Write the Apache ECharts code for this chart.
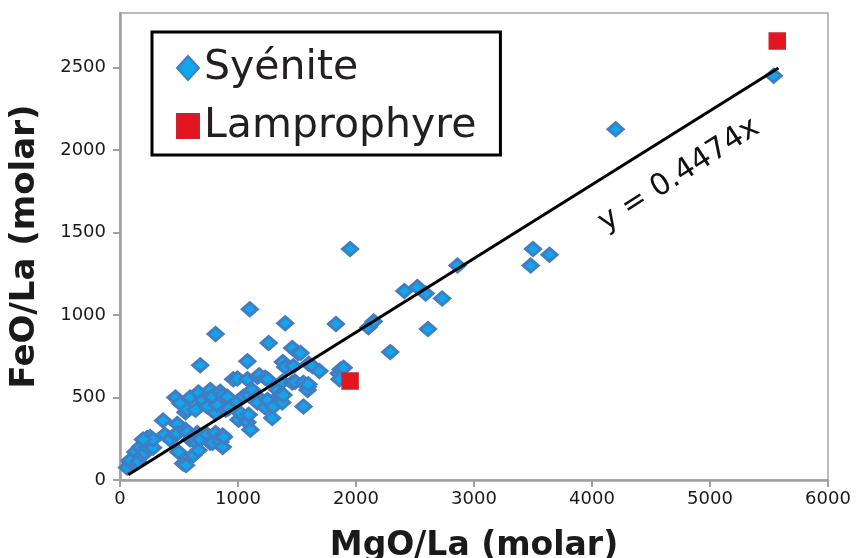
<!DOCTYPE html>
<html>
<head>
<meta charset="utf-8">
<script src="https://cdn.jsdelivr.net/npm/echarts@6/dist/echarts.min.js"></script>
<style>
html,body{margin:0;padding:0;background:#fff;}
#chart{width:856px;height:558px;}
</style>
</head>
<body>
<div id="chart"></div>
<script>
// ---- data ----
const xTicks = [0, 1000, 2000, 3000, 4000, 5000, 6000];
const yTicks = [0, 500, 1000, 1500, 2000, 2500];
const seriesNames = ['Syénite', 'Lamprophyre'];
const syenite = [
  [60,75],[85,110],[85,120],[130,170],[155,110],[170,200],[190,150],[210,165],[230,200],[230,255],
  [255,260],[280,195],[280,245],[195,245],[365,360],[380,275],[425,245],[470,275],[470,500],[485,340],
  [485,285],[495,170],[510,465],[535,100],[555,305],[555,410],[560,90],[570,290],[570,425],[595,245],
  [595,500],[620,150],[640,425],[640,230],[655,285],[665,180],[665,530],[680,245],[680,695],[700,485],
  [740,275],[740,445],[765,225],[765,505],[765,545],[780,505],[785,225],[810,285],[810,405],[810,885],
  [825,455],[850,535],[850,230],[870,270],[870,515],[870,200],[880,260],[895,425],[910,505],[920,435],
  [960,610],[995,475],[995,615],[1005,365],[1020,405],[1045,505],[1080,610],[1080,350],[1080,720],[1090,395],
  [1090,515],[1100,1035],[1105,305],[1120,545],[1165,505],[1165,625],[1165,470],[1180,635],[1230,440],[1230,620],
  [1250,485],[1250,610],[1260,830],[1290,375],[1300,445],[1335,545],[1360,515],[1375,470],[1375,595],[1380,715],
  [1385,515],[1400,950],[1400,685],[1460,590],[1460,800],[1470,690],[1485,595],[1510,770],[1530,770],[1555,445],
  [1555,590],[1590,565],[1590,545],[1595,580],[1600,705],[1630,690],[1690,660],[1830,945],[1855,645],[1870,670],
  [1895,680],[1860,610],[1950,1400],[2105,925],[2150,960],[2290,775],[2410,1145],[2520,1170],[2590,1130],[2610,915],
  [2730,1100],[2860,1300],[3480,1300],[3500,1400],[3640,1365],[4200,2125],[5540,2450]
];
const lamprophyre = [[1950,600],[5570,2660]];
const slope = 0.4474;
const trendX = [70, 5580];
const equationText = 'y = 0.4474x';
const xName = 'MgO/La (molar)';
const yName = 'FeO/La (molar)';

const trend = trendX.map(x => [x, slope * x]);
const FONT = 'DejaVu Sans';
const plain = v => String(v);

const chart = echarts.init(document.getElementById('chart'), null, {renderer: 'canvas'});
chart.setOption({
  animation: false,
  backgroundColor: '#ffffff',
  grid: {
    left: 120, right: 28, top: 13, bottom: 78,
    containLabel: false, outerBoundsMode: 'none',
    show: true, borderColor: '#a6a6a6', borderWidth: 1.5, backgroundColor: 'transparent'
  },
  xAxis: {
    type: 'value', min: 0, max: 6000, interval: 1000,
    name: xName, nameLocation: 'middle', nameGap: 50,
    nameTextStyle: {fontFamily: FONT, fontWeight: 'bold', fontSize: 33, color: '#1a1a1a'},
    axisLine: {show: true, lineStyle: {color: '#a0a0a0', width: 2.5}},
    axisTick: {show: true, inside: false, length: 7, customValues: xTicks, lineStyle: {color: '#a0a0a0', width: 2}},
    axisLabel: {customValues: xTicks, formatter: plain, margin: 10, fontFamily: FONT, fontSize: 18, color: '#1a1a1a'},
    splitLine: {show: false}
  },
  yAxis: {
    type: 'value', min: 0, max: 2830, interval: 500,
    name: yName, nameLocation: 'middle', nameGap: 78, nameRotate: 90,
    nameTextStyle: {fontFamily: FONT, fontWeight: 'bold', fontSize: 34, color: '#1a1a1a'},
    axisLine: {show: true, lineStyle: {color: '#a0a0a0', width: 2.5}},
    axisTick: {show: true, inside: false, length: 7, customValues: yTicks, lineStyle: {color: '#a0a0a0', width: 2}},
    axisLabel: {customValues: yTicks, formatter: plain, margin: 14, fontFamily: FONT, fontSize: 18, color: '#1a1a1a'},
    splitLine: {show: false}
  },
  legend: {
    orient: 'vertical', left: 152, top: 32,
    padding: [13, 24, 6, 24],
    itemGap: 12, itemWidth: 22, itemHeight: 24, itemTextGap: 22,
    borderColor: '#000', borderWidth: 3,
    data: [{name: seriesNames[0], icon: 'diamond'}, {name: seriesNames[1], icon: 'rect'}],
    textStyle: {fontFamily: FONT, fontSize: 41, color: '#231f20', lineHeight: 46}
  },
  graphic: [{
    type: 'text', x: 679, y: 175, rotation: 0.57,
    style: {text: equationText, fontFamily: FONT, fontSize: 30, fill: '#111', align: 'center', verticalAlign: 'middle'},
    z: 100
  }],
  series: [
    {
      name: seriesNames[0], type: 'scatter', data: syenite,
      symbol: 'diamond', symbolSize: [15, 13],
      itemStyle: {color: '#0fa6ea', borderColor: '#3f7dc5', borderWidth: 3, opacity: 1},
      z: 2
    },
    {
      name: 'trend', type: 'line', data: trend, showSymbol: false, symbol: 'none',
      lineStyle: {color: '#000', width: 3}, z: 3, silent: true
    },
    {
      name: seriesNames[1], type: 'scatter', data: lamprophyre,
      symbol: 'rect', symbolSize: 16,
      itemStyle: {color: '#e3161f', borderColor: '#c4262e', borderWidth: 1.5, opacity: 1},
      z: 4
    }
  ]
});
</script>
</body>
</html>
